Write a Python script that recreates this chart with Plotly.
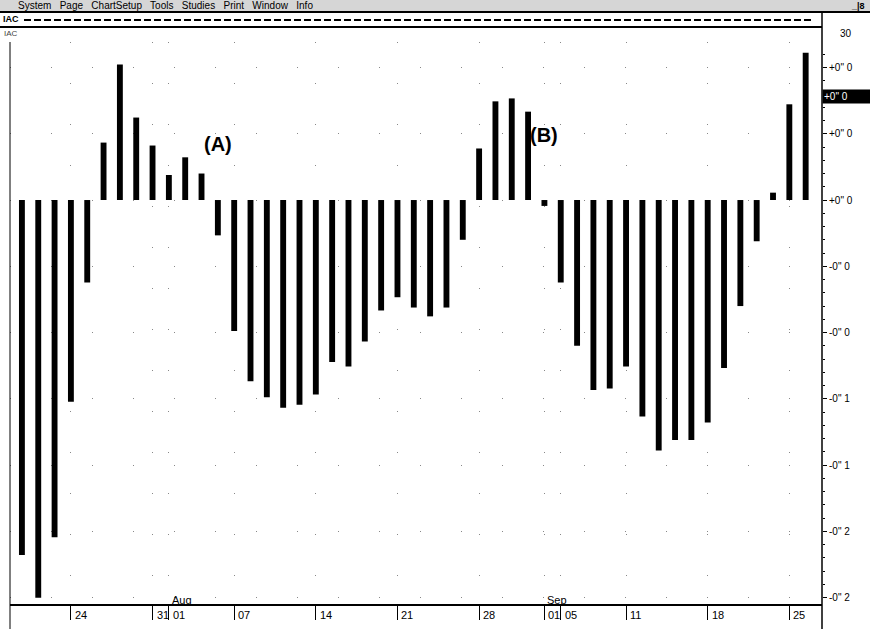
import plotly.graph_objects as go

# 거래일 (2000-07-19 ~ 2000-09-26, 주말/노동절 제외)
dates = [
    "07-19", "07-20", "07-21", "07-24", "07-25", "07-26", "07-27", "07-28", "07-31",
    "08-01", "08-02", "08-03", "08-04", "08-07", "08-08", "08-09", "08-10", "08-11",
    "08-14", "08-15", "08-16", "08-17", "08-18", "08-21", "08-22", "08-23", "08-24",
    "08-25", "08-28", "08-29", "08-30", "08-31",
    "09-01", "09-05", "09-06", "09-07", "09-08", "09-11", "09-12", "09-13", "09-14",
    "09-15", "09-18", "09-19", "09-20", "09-21", "09-22", "09-25", "09-26",
]

# AC 값 (그림에서 읽은 근사치)
ac_values = [
    -0.241, -0.270, -0.229, -0.137, -0.056, 0.039, 0.092, 0.056, 0.037,
    0.017, 0.029, 0.018, -0.024, -0.089, -0.123, -0.134, -0.141, -0.139,
    -0.132, -0.110, -0.113, -0.096, -0.075, -0.066, -0.073, -0.079, -0.073,
    -0.027, 0.035, 0.067, 0.069, 0.060,
    -0.004, -0.056, -0.099, -0.129, -0.128, -0.113, -0.147, -0.170, -0.163,
    -0.163, -0.151, -0.114, -0.072, -0.028, 0.005, 0.065, 0.100,
]

# x축 날짜 라벨
x_tick_dates = ["07-24", "07-31", "08-01", "08-07", "08-14", "08-21", "08-28",
                "09-01", "09-05", "09-11", "09-18", "09-25"]
x_tick_text = ["24", "31", "01", "07", "14", "21", "28", "01", "05", "11", "18", "25"]
month_dates = ["08-01", "09-01"]
month_text = ["Aug", "Sep"]

# y축 라벨 (오른쪽, 잘린 형태)
y_tick_vals = [0.09, 0.045, 0.0, -0.045, -0.09, -0.135, -0.18, -0.225, -0.27]
y_tick_text = ['+0" 0', '+0" 0', '+0" 0', '-0" 0', '-0" 0', '-0" 1', '-0" 1', '-0" 2', '-0" 2']
marker_value = 0.070

W, H = 870, 629
L, R, T, B = 10, 48, 42, 25
PW, PH = W - L - R, H - T - B


def px_x(q):
    return (q - L) / PW


def px_y(p):
    return (H - B - p) / PH


fig = go.Figure()

fig.add_trace(
    go.Bar(
        x=dates,
        y=ac_values,
        marker=dict(color="black", line=dict(width=0)),
        width=0.36,
        showlegend=False,
        hoverinfo="skip",
    )
)

annotations = []
shapes = []

# 날짜 라벨
for d, t in zip(x_tick_dates, x_tick_text):
    annotations.append(dict(
        x=d, y=px_y(615), xref="x", yref="paper", text=t, showarrow=False,
        xanchor="left", yanchor="middle", xshift=2,
        font=dict(family="Arial", size=11, color="black"),
    ))
for d, t in zip(month_dates, month_text):
    annotations.append(dict(
        x=d, y=px_y(600), xref="x", yref="paper", text=t, showarrow=False,
        xanchor="left", yanchor="middle", xshift=1,
        font=dict(family="Arial", size=11, color="black"),
    ))

# (A), (B) 표시
annotations.append(dict(x="08-04", y=0.038, xref="x", yref="y", text="<b>(A)</b>",
                        showarrow=False, xanchor="center",
                        font=dict(family="Arial", size=20, color="black")))
annotations.append(dict(x="09-01", y=0.044, xref="x", yref="y", text="<b>(B)</b>",
                        showarrow=False, xanchor="center",
                        font=dict(family="Arial", size=20, color="black")))

# 현재값 표시 박스
annotations.append(dict(x=1, y=marker_value, xref="paper", yref="y", text='+0" 0',
                        showarrow=False, xanchor="left", yanchor="middle",
                        width=46, align="left",
                        bgcolor="black", borderpad=1,
                        font=dict(family="Arial", size=10, color="white")))

# 상단 메뉴바
shapes.append(dict(type="rect", xref="paper", yref="paper",
                   x0=px_x(0), x1=px_x(W), y0=px_y(12), y1=px_y(0),
                   fillcolor="#d6d6d6", line=dict(width=0), layer="below"))
shapes.append(dict(type="line", xref="paper", yref="paper",
                   x0=px_x(0), x1=px_x(W), y0=px_y(12), y1=px_y(12),
                   line=dict(color="black", width=2)))
annotations.append(dict(x=px_x(16), y=px_y(6), xref="paper", yref="paper",
                        text="System   Page   ChartSetup   Tools   Studies   Print   Window   Info",
                        showarrow=False, xanchor="left", yanchor="middle",
                        font=dict(family="Arial", size=10, color="black")))
annotations.append(dict(x=px_x(858), y=px_y(6), xref="paper", yref="paper",
                        text="<b>_|8</b>", showarrow=False, xanchor="center", yanchor="middle",
                        font=dict(family="Arial", size=9, color="black")))

# IAC 행
annotations.append(dict(x=px_x(1), y=px_y(19), xref="paper", yref="paper",
                        text="<b>IAC</b>", showarrow=False, xanchor="left", yanchor="middle",
                        font=dict(family="Arial", size=9, color="black")))
shapes.append(dict(type="line", xref="paper", yref="paper",
                   x0=px_x(24), x1=px_x(812), y0=px_y(20), y1=px_y(20),
                   line=dict(color="black", width=2, dash="7px,3px")))
shapes.append(dict(type="line", xref="paper", yref="paper",
                   x0=px_x(0), x1=px_x(822), y0=px_y(27), y1=px_y(27),
                   line=dict(color="black", width=2)))
annotations.append(dict(x=px_x(2), y=px_y(33), xref="paper", yref="paper",
                        text="IAC", showarrow=False, xanchor="left", yanchor="middle",
                        font=dict(family="Arial", size=8, color="#444")))
annotations.append(dict(x=px_x(846), y=px_y(33), xref="paper", yref="paper",
                        text="30", showarrow=False, xanchor="center", yanchor="middle",
                        font=dict(family="Arial", size=10, color="black")))

# 좌/우 세로선
shapes.append(dict(type="line", xref="paper", yref="paper",
                   x0=0, x1=0, y0=px_y(629), y1=1,
                   line=dict(color="black", width=1)))
shapes.append(dict(type="line", xref="paper", yref="paper",
                   x0=1, x1=1, y0=px_y(629), y1=px_y(12),
                   line=dict(color="black", width=1.5)))

fig.update_layout(
    width=W, height=H,
    margin=dict(l=L, r=R, t=T, b=B),
    paper_bgcolor="white", plot_bgcolor="white",
    bargap=0.62,
    font=dict(family="Arial", color="black"),
    annotations=annotations,
    shapes=shapes,
)

fig.update_xaxes(
    type="category",
    categoryorder="array", categoryarray=dates,
    range=[-0.73, 49.0],
    tickmode="array", tickvals=x_tick_dates, ticktext=[""] * len(x_tick_dates),
    ticks="outside", ticklen=14, tickcolor="black", tickwidth=1,
    showline=True, linecolor="black", linewidth=1.5,
    showgrid=True, gridcolor="#888", gridwidth=1, griddash="1px,40px",
    zeroline=False,
)

fig.update_yaxes(
    side="right",
    range=[-0.2743, 0.1073],
    tickmode="array", tickvals=y_tick_vals, ticktext=y_tick_text,
    ticks="outside", ticklen=4, tickcolor="black",
    tickfont=dict(family="Arial", size=10, color="black"),
    minor=dict(tick0=0, dtick=0.009, ticks="outside", ticklen=2, tickcolor="black", showgrid=False),
    showline=False,
    showgrid=True, gridcolor="#888", gridwidth=1, griddash="1px,40px",
    zeroline=False,
)

# 페이지 기본 여백 제거, 모드바 숨김
fig.write_html("out.html", config={"displayModeBar": False},
               post_script="document.body.style.margin='0px';")
